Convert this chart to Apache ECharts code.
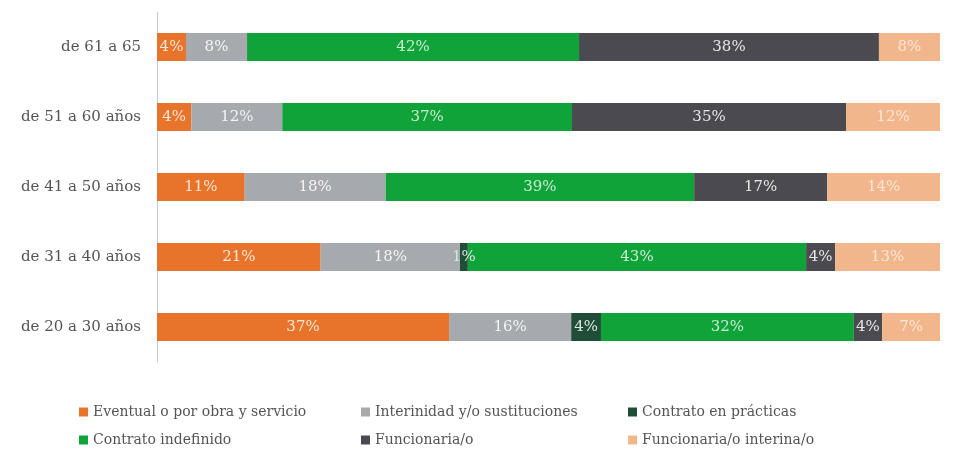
<!DOCTYPE html>
<html>
<head>
<meta charset="utf-8">
<script src="https://cdn.jsdelivr.net/npm/echarts@6/dist/echarts.min.js"></script>
<style>
  html, body { margin: 0; padding: 0; background: #fff; }
  #chart { width: 956px; height: 453px; }
</style>
</head>
<body>
<div id="chart"></div>
<script>
// age groups, top to bottom
const ageGroups = ['de 61 a 65', 'de 51 a 60 años', 'de 41 a 50 años', 'de 31 a 40 años', 'de 20 a 30 años']

// share of each contract type per age group (%)
const eventual = [3.7, 4.4, 11.2, 20.9, 37.3]
const interinidad = [7.8, 11.6, 18.0, 17.8, 15.6]
const practicas = [0, 0, 0, 1.0, 3.8]
const indefinido = [42.4, 37.0, 39.4, 43.2, 32.3]
const funcionaria = [38.3, 35.0, 17.0, 3.7, 3.6]
const interina = [7.8, 12.0, 14.4, 13.4, 7.4]

const seriesNames = [
  'Eventual o por obra y servicio',
  'Interinidad y/o sustituciones',
  'Contrato en prácticas',
  'Contrato indefinido',
  'Funcionaria/o',
  'Funcionaria/o interina/o'
]
const seriesData = [eventual, interinidad, practicas, indefinido, funcionaria, interina]
const colors = ['#e8732a', '#a6a9ae', '#1f4d37', '#0fa33a', '#4b4a50', '#f2b68c']
const labelColors = ['#fde7d6', '#f4f4f4', '#d8e6dc', '#c9eccf', '#e6e6e6', '#fbe6d6']

const serif = '"DejaVu Serif", "Liberation Serif", serif'

const chart = echarts.init(document.getElementById('chart'), null, { renderer: 'canvas' })

const legendBase = {
  orient: 'vertical',
  top: 400,
  itemWidth: 9,
  itemHeight: 9,
  itemGap: 14,
  icon: 'rect',
  textStyle: { fontFamily: serif, fontSize: 14, color: '#555' }
}

chart.setOption({
  animation: false,
  color: colors,
  grid: { left: 157, right: 16, top: 12, bottom: 91 },
  xAxis: {
    type: 'value',
    min: 0,
    max: 100,
    show: false
  },
  yAxis: {
    type: 'category',
    inverse: true,
    data: ageGroups,
    axisLine: { show: true, lineStyle: { color: '#c8ccd2', width: 1 } },
    axisTick: { show: false },
    axisLabel: { fontFamily: serif, fontSize: 15, color: '#555', margin: 16 }
  },
  legend: [
    Object.assign({}, legendBase, { left: 74, data: [seriesNames[0], seriesNames[3]] }),
    Object.assign({}, legendBase, { left: 356, data: [seriesNames[1], seriesNames[4]] }),
    Object.assign({}, legendBase, { left: 623, data: [seriesNames[2], seriesNames[5]] })
  ],
  series: seriesNames.map((name, i) => ({
    name: name,
    type: 'bar',
    stack: 'total',
    barWidth: 28,
    data: seriesData[i],
    label: {
      show: true,
      position: 'inside',
      fontFamily: serif,
      fontSize: 15,
      color: labelColors[i],
      formatter: p => p.value > 0 ? Math.round(p.value) + '%' : ''
    }
  }))
})
</script>
</body>
</html>
